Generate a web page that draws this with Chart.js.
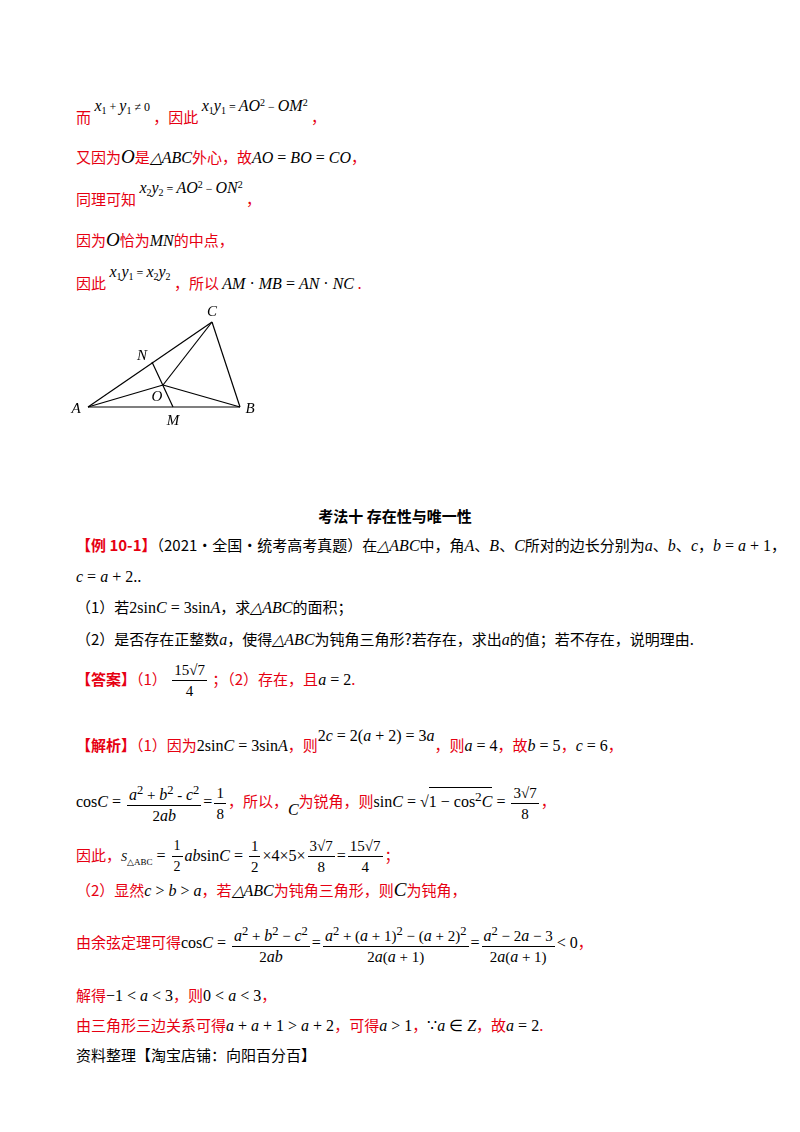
<!DOCTYPE html>
<html><head><meta charset="utf-8">
<script src="https://cdn.jsdelivr.net/npm/chart.js@4/dist/chart.umd.min.js"></script>
<style>
body{margin:0;width:800px;height:1132px;background:#fff;position:relative;font-family:"Noto Sans CJK SC",sans-serif;font-size:15px;color:#000}
.l{position:absolute;left:76px;white-space:nowrap;line-height:20px}
.r{color:#e60012}
i,.m{font-family:"Liberation Serif",serif;color:#000;font-size:16px}
.sm{font-size:12px;position:relative;top:-12px}
.f{display:inline-flex;flex-direction:column;align-items:center;vertical-align:middle;font-family:"Liberation Serif",serif;color:#000;line-height:20px;margin:0 2px}
.f span:first-child{border-bottom:1px solid #000;padding:0 2px}
#fig{position:absolute;left:60px;top:300px;width:220px;height:130px}
</style></head><body>
<div class="l r" style="top:105px">而 <span class="m sm"><i>x</i><sub>1</sub> + <i>y</i><sub>1</sub> ≠ 0</span> ，因此 <span class="m sm"><i>x</i><sub>1</sub><i>y</i><sub>1</sub> = <i>AO</i><sup>2</sup> − <i>OM</i><sup>2</sup></span> ，</div>
<div class="l r" style="top:147px">又因为<i style="font-size:19px">O</i>是<i>△ABC</i>外心，故<i>AO</i><span class="m"> = </span><i>BO</i><span class="m"> = </span><i>CO</i>，</div>
<div class="l r" style="top:187px">同理可知 <span class="m sm"><i>x</i><sub>2</sub><i>y</i><sub>2</sub> = <i>AO</i><sup>2</sup> − <i>ON</i><sup>2</sup></span> ，</div>
<div class="l r" style="top:230px">因为<i style="font-size:19px">O</i>恰为<i>MN</i>的中点，</div>
<div class="l r" style="top:273px">因此 <span class="m sm"><i>x</i><sub>1</sub><i>y</i><sub>1</sub> = <i>x</i><sub>2</sub><i>y</i><sub>2</sub></span> ，所以 <span class="m"><i>AM</i> · <i>MB</i> = <i>AN</i> · <i>NC</i></span> .</div>
<div id="fig"><canvas id="c" width="220" height="130"></canvas></div>
<div class="l" style="top:506px;left:0;width:790px;text-align:center;font-weight:bold">考法十  存在性与唯一性</div>
<div class="l" style="top:535px"><span class="r" style="font-weight:bold">【例 10-1】</span>（2021·全国·统考高考真题）在<i>△ABC</i>中，角<i>A</i>、<i>B</i>、<i>C</i>所对的边长分别为<i>a</i>、<i>b</i>、<i>c</i>，<span class="m"><i>b</i> = <i>a</i> + 1</span>，</div>
<div class="l" style="top:566px"><span class="m"><i>c</i> = <i>a</i> + 2</span>..</div>
<div class="l" style="top:597px">（1）若<span class="m">2sin<i>C</i> = 3sin<i>A</i></span>，求<i>△ABC</i>的面积；</div>
<div class="l" style="top:629px">（2）是否存在正整数<i>a</i>，使得<i>△ABC</i>为钝角三角形?若存在，求出<i>a</i>的值；若不存在，说明理由.</div>
<div class="l r" style="top:660px;line-height:26px"><span style="font-weight:bold">【答案】</span>（1） <span class="f"><span>15√7</span><span>4</span></span> ；（2）存在，且<span class="m"><i>a</i> = 2</span>.</div>
<div class="l r" style="top:735px"><span style="font-weight:bold">【解析】</span>（1）因为<span class="m">2sin<i>C</i> = 3sin<i>A</i></span>，则<span class="m" style="position:relative;top:-10px">2<i>c</i> = 2(<i>a</i> + 2) = 3<i>a</i></span>，则<span class="m"><i>a</i> = 4</span>，故<span class="m"><i>b</i> = 5</span>，<span class="m"><i>c</i> = 6</span>，</div>
<div class="l r" style="top:780px;line-height:40px"><span class="m">cos<i>C</i> = </span><span class="f"><span><i>a</i><sup>2</sup> + <i>b</i><sup>2</sup> - <i>c</i><sup>2</sup></span><span>2<i>ab</i></span></span><span class="m">=</span><span class="f"><span>1</span><span>8</span></span>，所以，<i style="position:relative;top:8px">C</i>为锐角，则<span class="m">sin<i>C</i> = √<span style="border-top:1px solid #000;line-height:18px;display:inline-block">1 − cos<sup>2</sup><i>C</i></span> = </span><span class="f"><span>3√7</span><span>8</span></span>，</div>
<div class="l r" style="top:835px;line-height:40px">因此，<span class="m"><i style="font-size:12px">S</i><sub style="font-size:9px">△ABC</sub> = </span><span class="f" style="font-size:14px"><span>1</span><span>2</span></span><span class="m"><i>ab</i>sin<i>C</i> = </span><span class="f"><span>1</span><span>2</span></span><span class="m">×4×5×</span><span class="f"><span>3√7</span><span>8</span></span><span class="m">=</span><span class="f"><span>15√7</span><span>4</span></span>；</div>
<div class="l r" style="top:880px">（2）显然<span class="m"><i>c</i> &gt; <i>b</i> &gt; <i>a</i></span>，若<i>△ABC</i>为钝角三角形，则<i style="font-size:19px">C</i>为钝角，</div>
<div class="l r" style="top:920px;line-height:44px">由余弦定理可得<span class="m">cos<i>C</i> = </span><span class="f"><span><i>a</i><sup>2</sup> + <i>b</i><sup>2</sup> − <i>c</i><sup>2</sup></span><span>2<i>ab</i></span></span><span class="m">=</span><span class="f"><span><i>a</i><sup>2</sup> + (<i>a</i> + 1)<sup>2</sup> − (<i>a</i> + 2)<sup>2</sup></span><span>2<i>a</i>(<i>a</i> + 1)</span></span><span class="m">=</span><span class="f"><span><i>a</i><sup>2</sup> − 2<i>a</i> − 3</span><span>2<i>a</i>(<i>a</i> + 1)</span></span><span class="m">&lt; 0</span>，</div>
<div class="l r" style="top:985px">解得<span class="m">−1 &lt; <i>a</i> &lt; 3</span>，则<span class="m">0 &lt; <i>a</i> &lt; 3</span>，</div>
<div class="l r" style="top:1015px">由三角形三边关系可得<span class="m"><i>a</i> + <i>a</i> + 1 &gt; <i>a</i> + 2</span>，可得<span class="m"><i>a</i> &gt; 1</span>，<span class="m">∵<i>a</i> ∈ <i>Z</i></span>，故<span class="m"><i>a</i> = 2</span>.</div>
<div class="l" style="top:1045px">资料整理【淘宝店铺：向阳百分百】</div>
<script>
// figure points (x right, y up)
const pointNames = ['A', 'B', 'C', 'N', 'O', 'M'];
const pointX = [0, 152, 124, 64, 75, 85];
const pointY = [0, 0, 85, 45, 22, 0];
const segments = [['A','B'], ['B','C'], ['C','A'], ['A','O'], ['O','B'], ['O','C'], ['N','M']];
const labelOffset = {A: [-12, 2], B: [10, 2], C: [0, -10], N: [-10, -6], O: [-6, 12], M: [0, 14]};

function pt(name) {
    const i = pointNames.indexOf(name);
    return {x: pointX[i], y: pointY[i]};
}

const labelPlugin = {
    id: 'labels',
    afterDatasetsDraw(chart) {
        const ctx = chart.ctx;
        ctx.save();
        ctx.font = 'italic 15px "Liberation Serif"';
        ctx.fillStyle = '#000';
        ctx.textAlign = 'center';
        ctx.textBaseline = 'middle';
        pointNames.forEach((n, i) => {
            const x = chart.scales.x.getPixelForValue(pointX[i]) + labelOffset[n][0];
            const y = chart.scales.y.getPixelForValue(pointY[i]) + labelOffset[n][1];
            ctx.fillText(n, x, y);
        });
        ctx.restore();
    }
};

new Chart(document.getElementById('c'), {
    type: 'scatter',
    data: {
        datasets: segments.map(s => ({
            data: [pt(s[0]), pt(s[1])],
            showLine: true,
            borderColor: '#000',
            borderWidth: 1.2,
            pointRadius: 0
        }))
    },
    options: {
        responsive: false,
        animation: false,
        layout: {padding: 0},
        plugins: {legend: {display: false}, tooltip: {enabled: false}},
        scales: {
            x: {display: false, min: -28, max: 192},
            y: {display: false, min: -23, max: 107}
        }
    },
    plugins: [labelPlugin]
});
</script>
</body></html>
